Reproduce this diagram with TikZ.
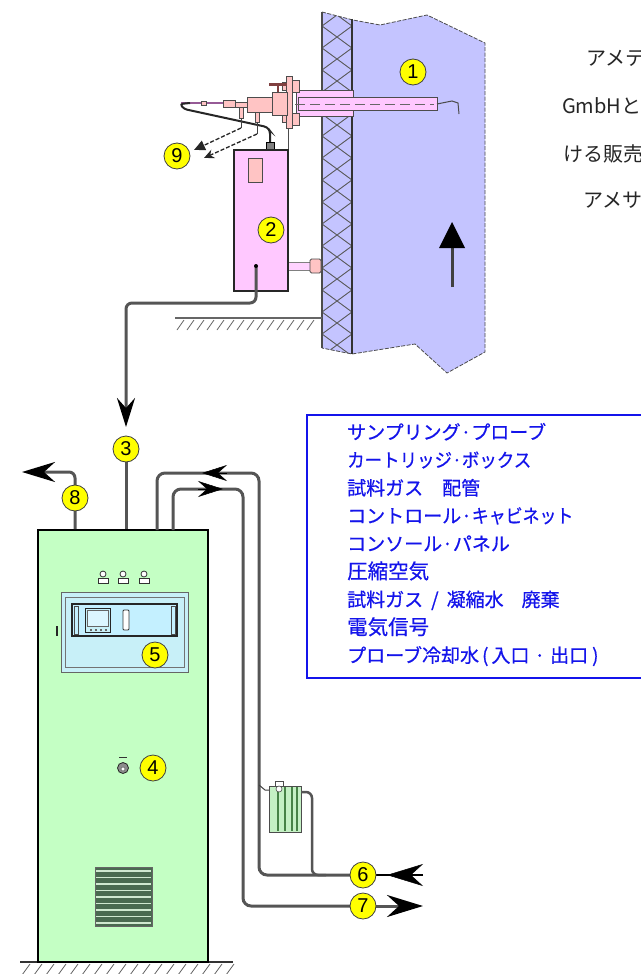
\documentclass[tikz,border=0pt]{standalone}
\usepackage{graphicx}
\usepackage{fontspec}
\newfontfamily\jpfont{Noto Sans CJK JP}
\newfontfamily\jplegfont[FakeBold=0.6]{Noto Sans CJK JP}
\newfontfamily\numfont{Liberation Sans}
\usetikzlibrary{arrows.meta}
\definecolor{flue}{RGB}{196,196,255}
\definecolor{pinkbox}{RGB}{255,200,255}
\definecolor{salmon}{RGB}{255,196,196}
\definecolor{cabgreen}{RGB}{196,255,196}
\definecolor{legblue}{RGB}{20,20,235}
\definecolor{pipegray}{RGB}{85,85,85}
\definecolor{labyellow}{RGB}{255,255,0}
\definecolor{panelblue}{RGB}{200,240,248}
\definecolor{stripblue}{RGB}{196,240,255}
\definecolor{louver}{RGB}{74,106,80}
\definecolor{louverline}{RGB}{208,232,208}
\definecolor{filtergreen}{RGB}{196,240,196}
\definecolor{filterline}{RGB}{70,130,70}
\definecolor{handle}{RGB}{128,64,64}
\definecolor{heatline}{RGB}{150,90,150}

\begin{document}
\begin{tikzpicture}[x=1pt,y=-1pt,
  lab/.style={circle,fill=labyellow,draw=black!75,line width=0.8pt,minimum size=26pt,inner sep=0pt,
    font=\numfont\fontsize{20}{20}\selectfont},
  pipe/.style={draw=pipegray,line width=3pt,rounded corners=6pt},
  barb/.style n args={3}{-{Stealth[length=#1,width=#2,inset=#3,color=black]}},
  part/.style={fill=salmon,draw=black!70,line width=0.8pt},
  legtext/.style={anchor=base west,inner sep=0pt,text=legblue,font=\jplegfont\fontsize{19}{19}\selectfont},
  intro/.style={anchor=base west,inner sep=0pt,text=black!85,font=\jpfont\fontsize{20}{20}\selectfont}
]
\useasboundingbox (0,0) rectangle (640,974);
\fill[white] (0,0) rectangle (640,974);

% ---------- introductory text (runs off the right edge) ----------
\node[intro] (intro1) at (586,65.6) {アメテ};
\node[intro] (intro2) at (562,113.6) {GmbHと};
\node[intro] (intro3) at (563,161.6) {ける販売};
\node[intro] (intro4) at (583,207.6) {アメサ};

% ---------- flue duct ----------
\fill[flue] (322,12) -- (353,20) -- (380,25) -- (427,15) -- (485,43) -- (485,352)
  -- (447,373) -- (415,344) -- (352,354) -- (322,348) -- cycle;
\draw[black!70,line width=0.8pt,dash pattern=on 4pt off 1.5pt]
  (322,12) -- (353,20) -- (380,25) -- (427,15) -- (485,43) -- (485,352)
  -- (447,373) -- (415,344) -- (352,354) -- (322,348);
% insulated wall with cross hatching
\begin{scope}
  \clip (322,12) -- (353,20) -- (353,354) -- (322,348) -- cycle;
  \foreach \k in {0,...,16} {
    \draw[black!65,line width=0.9pt] (322,4+22*\k) -- (352,26+22*\k);
    \draw[black!65,line width=0.9pt] (322,26+22*\k) -- (352,4+22*\k);
  }
\end{scope}
\draw[black!70,line width=1.2pt] (322,12) -- (322,348);
\draw[black!80,line width=2.5pt] (352,19) -- (352,354);
% gas flow direction
\draw[black!75,line width=3pt] (452,287) -- (452,246);
\fill[black] (452,222) -- (465,248) -- (439,248) -- cycle;

% floor under the cartridge box
\draw[black!60,line width=2pt] (175,318) -- (322,318);
\foreach \x in {184,194,...,314} \draw[black!60,line width=0.8pt] (\x,320) -- (\x-7,330);

% ---------- sampling probe ----------
\filldraw[fill=pinkbox,draw=black!70,line width=0.8pt] (296,90) rectangle (353,116);
\filldraw[fill=pinkbox,draw=black!70,line width=0.8pt] (298,97) rectangle (437,110);
\draw[black!60,line width=1pt,dash pattern=on 10pt off 5pt] (250,104) -- (434,104);
\draw[black!70,line width=1pt] (437,104) -- (452,101) -- (458,103) -- (459,114);
% flange and bolts
\draw[black!70,line width=1pt] (288,128) -- (288,150);
\filldraw[part] (286,76) rectangle (292,128);
\filldraw[part] (292,80) rectangle (299,92);
\filldraw[part] (292,113) rectangle (299,125);
\filldraw[part] (282,82) rectangle (286,90);
\filldraw[part] (282,114) rectangle (286,122);
% probe head
\filldraw[part] (272,92) rectangle (287,115);
\filldraw[part] (247,97) rectangle (272,112);
\filldraw[part] (235,102) rectangle (247,107);
\filldraw[part] (223,100) rectangle (235,107);
\draw[handle,line width=2pt] (278,92) -- (278,85);
\draw[handle,line width=3pt] (269,84) -- (287,84);
% heated sample line
\draw[heatline,line width=1.2pt] (181,103) -- (223,103);
\filldraw[part,line width=0.5pt] (201,101) rectangle (206,105);
\draw[black!85,line width=2pt,rounded corners=3pt] (190,103) -- (180,104) -- (184,109)
  -- (267,127) -- (270,131) -- (270,143);
\filldraw[fill=black!50,draw=black,line width=0.6pt] (266,142) rectangle (274,150);
% drain stubs with dashed discharge arrows
\filldraw[part] (239,107) rectangle (243,118);
\filldraw[part] (255,112) rectangle (259,122);
\draw[black!75,line width=1pt] (241,118) -- (241,128);
\draw[black!75,line width=1pt] (257,122) -- (257,134);
\coordinate (drainA) at (241,128);
\coordinate (drainB) at (257,134);
\coordinate (outA) at (194,150);
\coordinate (outB) at (204,158);
\draw[black!85,line width=1.3pt,dash pattern=on 4pt off 2pt,-{Triangle[length=11pt,width=10pt]}] (drainA) -- (outA);
\draw[black!85,line width=1.3pt,dash pattern=on 4pt off 2pt,-{Stealth[length=10pt,width=9pt]}] (drainB) -- (outB);

% ---------- cartridge box ----------
\filldraw[fill=pinkbox!80,draw=black!50,line width=0.8pt] (288,262) rectangle (310,270);
\filldraw[part,rounded corners=1.5pt] (310,259) rectangle (321,273);
\node[draw=black!85,fill=pinkbox,line width=1.2pt,minimum width=54pt,minimum height=141pt,inner sep=0pt]
  (cart) at (261,220.5) {};
\filldraw[part] (248,158) rectangle (262,182);
\coordinate (dot2) at (256,266);

% ---------- control cabinet ----------
\draw[black!80,line width=2pt] (20,962) -- (233,962);
\foreach \x in {30,42,...,234} \draw[black!60,line width=0.8pt] (\x,964) -- (\x-8,975);
\node[draw=black,fill=cabgreen,line width=2pt,minimum width=170pt,minimum height=432pt,inner sep=0pt]
  (cab) at (123,746) {};
% indicator lamps
\foreach \x in {103,123,144} {
  \filldraw[fill=white,draw=black!80,line width=0.8pt] (\x-5,578) rectangle (\x+5,583);
  \filldraw[fill=white,draw=black!80,line width=0.8pt] (\x,574) circle (3pt);
}
% console panel
\filldraw[fill=panelblue,draw=black!60,line width=1pt] (61,592) rectangle (188,672);
\draw[black!55,line width=0.8pt] (65,597) rectangle (184,667);
\filldraw[fill=stripblue,draw=black!85,line width=1.5pt] (72,604) rectangle (177,636);
\draw[black!70,line width=0.7pt] (74,606) rectangle (78,634);
\draw[black!70,line width=0.7pt] (171,606) rectangle (175,634);
\filldraw[fill=panelblue,draw=black!85,line width=1pt] (85,608) rectangle (110,632);
\filldraw[fill=stripblue!60,draw=black!60,line width=0.6pt] (87,610) rectangle (108,626);
\foreach \x in {90,95,100,105} \fill[black!60] (\x,629) rectangle (\x+2,631);
\filldraw[fill=white,draw=black!80,line width=0.8pt,rounded corners=1pt] (123,610) rectangle (129,630);
\draw[black!85,line width=2pt] (57,626) -- (57,636);
% pressure gauge
\draw[black!80,line width=1pt] (119,757) -- (127,757);
\filldraw[fill=black!45,draw=black!85,line width=0.8pt] (123,768) circle (5.5pt);
\filldraw[fill=white,draw=black!70,line width=0.4pt] (123,769) circle (2pt);
% ventilation louver
\fill[louver] (95,867) rectangle (152,926);
\foreach \i in {0,...,8} \draw[louverline,line width=1.4pt] (96,871+6.5*\i) -- (151,871+6.5*\i);
\draw[black!60,line width=0.8pt] (95,867) rectangle (152,926);

% ---------- cooling water filter ----------
\node[draw=black!70,fill=filtergreen,line width=1pt,minimum width=32pt,minimum height=46pt,inner sep=0pt]
  (filter) at (285,809) {};
\foreach \x in {278,285,292,297} \draw[filterline,line width=1.2pt] (\x,787) -- (\x,831);
\draw[black!70,line width=0.8pt] (275,786) -- (275,781) -- (283,781) -- (283,786);
\filldraw[fill=white,draw=black!70,line width=0.6pt] (279,789) circle (3pt);

% ---------- label positions ----------
\coordinate (p1) at (413,72);
\coordinate (p2) at (271,230);
\coordinate (p3) at (126,449);
\coordinate (p4) at (153,768);
\coordinate (p5) at (155,655);
\coordinate (p6) at (363,875);
\coordinate (p7) at (363,906);
\coordinate (p8) at (75,498);
\coordinate (p9) at (177,156);

% ---------- piping ----------
\coordinate (in3) at (126,427);
\draw[pipe,barb={29pt}{18pt}{10pt}] (dot2) |- (126,303) -- (in3);
\draw[pipe] (p3) -- (p3 |- cab.north);

\coordinate (out8) at (22,472);
\draw[pipe,barb={33pt}{20pt}{11pt}] (p8 |- cab.north) -- (p8) |- (out8);

% probe cooling water loops
\draw[pipe,rounded corners=8pt] (157,530) |- (259,473) -- (259,875) -- (p6);
\draw[pipe,rounded corners=8pt] (173,530) |- (243,489) -- (243,906) -- (p7);
\draw[line width=0.5pt,barb={25pt}{16pt}{9pt}] (227,473) -- (202,473);
\draw[line width=0.5pt,barb={25pt}{16pt}{9pt}] (198,489) -- (223,489);
% filter branch
\draw[black!75,line width=1pt] (259,785) -- (265,790) -- (269,790);
\draw[pipe,line width=2.5pt] (301,792) -| (312,875) -- (326,875);
% inlet / outlet arrows
\coordinate (in6) at (423,875);
\coordinate (tip6) at (387,875);
\coordinate (out7) at (423,906);
\draw[black,line width=1.3pt] (p6) -- (in6);
\draw[line width=0.5pt,barb={36pt}{22pt}{12pt}] (in6) -- (tip6);
\draw[pipe,barb={36pt}{22pt}{12pt}] (p7) -- (out7);

\fill[black] (dot2) circle (2pt);

% ---------- numbered labels ----------
\node[lab] (c1) at (p1) {1};
\node[lab] (c2) at (p2) {2};
\node[lab] (c3) at (p3) {3};
\node[lab] (c4) at (p4) {4};
\node[lab] (c5) at (p5) {5};
\node[lab] (c6) at (p6) {6};
\node[lab] (c7) at (p7) {7};
\node[lab] (c8) at (p8) {8};
\node[lab] (c9) at (p9) {9};

% ---------- legend ----------
\draw[legblue,line width=2pt] (307,415) rectangle (660,678);
\node[legtext] (leg1) at (347,439.2) {サンプリング·プローブ};
\node[legtext] (leg2) at (347,467.1) {\scalebox{0.92}[1]{カートリッジ·ボックス}};
\node[legtext] (leg3) at (347,495.0) {試料ガス\hspace*{19pt}配管};
\node[legtext] (leg4) at (347,522.9) {コントロール·\scalebox{0.89}[1]{キャビネット}};
\node[legtext] (leg5) at (347,550.8) {コンソール·パネル};
\node[legtext,font=\jplegfont\fontsize{20.5}{20.5}\selectfont] (leg6) at (347,578.7) {圧縮空気};
\node[legtext] (leg7) at (347,606.6) {試料ガス\hspace*{8pt}/\hspace*{8pt}凝縮水\hspace*{18pt}廃棄};
\node[legtext,font=\jplegfont\fontsize{20.5}{20.5}\selectfont] (leg8) at (347,634.5) {電気信号};
\node[legtext] (leg9) at (347,662.4) {プローブ冷却水\hspace*{3pt}(\hspace*{3pt}入口\hspace*{5pt}·\hspace*{5pt}出口\hspace*{4pt})};
\end{tikzpicture}
\end{document}
